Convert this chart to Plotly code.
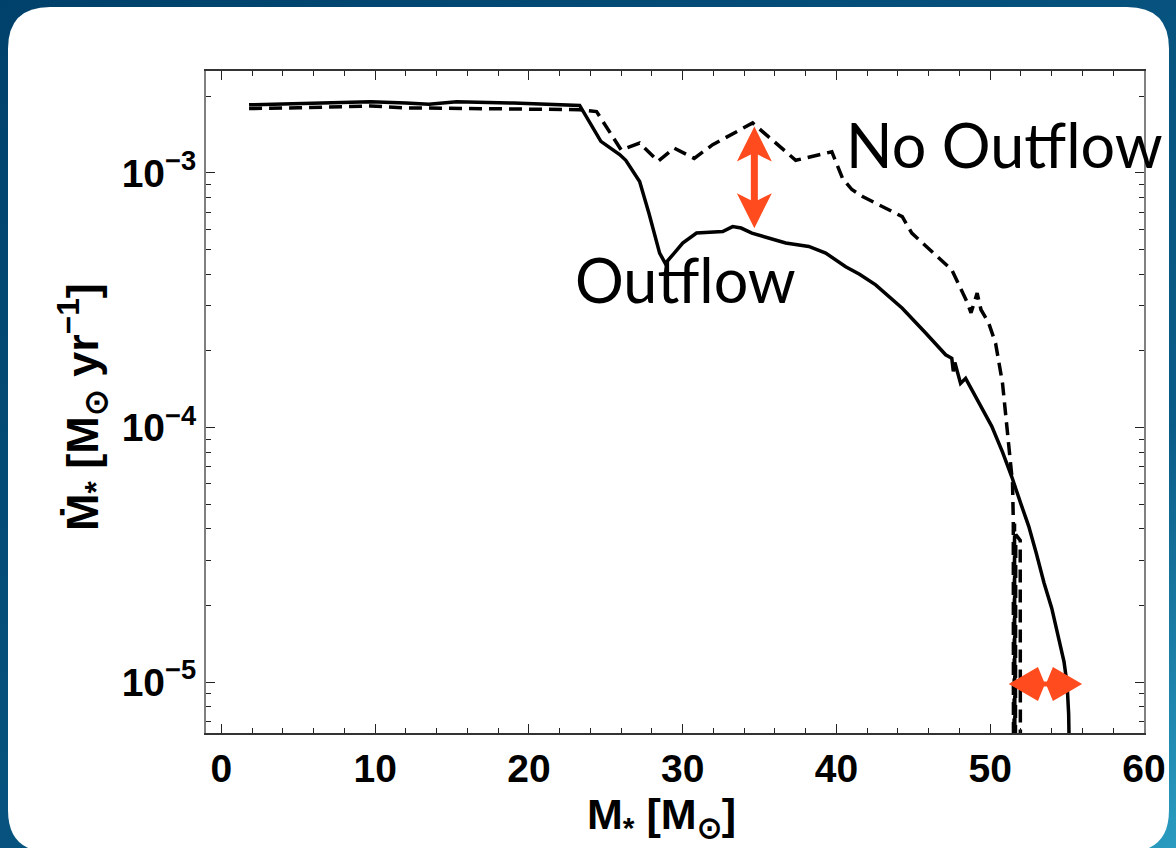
import base64
import plotly.graph_objects as go

# ---------------- data ----------------
outflow_x = [1.8, 5.0, 9.7, 12.0, 13.5, 15.3, 19.0, 23.3, 24.68, 25.9, 26.3, 27.2, 27.8, 28.5, 28.87,
             29.45, 30.0, 30.9, 32.6, 33.25, 33.8, 34.5, 36.7, 38.2, 39.3, 40.6, 41.5, 42.55, 44.28,
             45.8, 47.1, 47.5, 47.6, 47.7, 48.07, 48.4, 48.8, 49.1, 50.1, 50.8, 51.4, 52.0, 52.5,
             53.0, 53.5, 54.0, 54.4, 54.8, 55.0, 55.1, 55.15]
outflow_y = [1.85e-3, 1.87e-3, 1.90e-3, 1.88e-3, 1.86e-3, 1.90e-3, 1.88e-3, 1.84e-3, 1.33e-3, 1.18e-3,
             1.12e-3, 9.24e-4, 6.95e-4, 4.84e-4, 4.41e-4, 4.84e-4, 5.3e-4, 5.8e-4, 5.88e-4, 6.15e-4,
             6.07e-4, 5.8e-4, 5.3e-4, 5.14e-4, 4.84e-4, 4.28e-4, 4.0e-4, 3.63e-4, 2.94e-4, 2.35e-4,
             1.93e-4, 1.87e-4, 1.66e-4, 1.80e-4, 1.49e-4, 1.56e-4, 1.41e-4, 1.29e-4, 1.01e-4, 8.0e-5,
             6.4e-5, 5.0e-5, 4.1e-5, 3.2e-5, 2.45e-5, 1.95e-5, 1.55e-5, 1.2e-5, 9.8e-6, 7.5e-6, 5.0e-6]

noout_x = [1.8, 5.0, 9.7, 12.0, 16.0, 20.0, 23.3, 24.4, 25.3, 26.0, 27.2, 28.4, 29.45, 30.75, 31.95,
           34.55, 37.35, 39.7, 40.4, 41.0, 41.7, 44.28, 44.9, 47.1, 47.5, 48.5, 48.75, 49.15, 49.4,
           49.9, 50.35, 50.8, 51.1, 51.3, 51.45, 51.5, 51.52, 51.58, 51.62, 51.66, 51.95, 51.97]
noout_y = [1.79e-3, 1.80e-3, 1.83e-3, 1.80e-3, 1.79e-3, 1.78e-3, 1.77e-3, 1.74e-3, 1.43e-3, 1.23e-3,
           1.31e-3, 1.11e-3, 1.25e-3, 1.14e-3, 1.29e-3, 1.57e-3, 1.12e-3, 1.21e-3, 9.5e-4, 8.6e-4,
           8.07e-4, 6.73e-4, 5.8e-4, 4.41e-4, 4.16e-4, 3.1e-4, 2.82e-4, 3.37e-4, 2.9e-4, 2.57e-4,
           2.14e-4, 1.49e-4, 1.01e-4, 7.24e-5, 6.05e-5, 4.3e-5, 1.0e-6, 4.2e-5, 1.0e-6, 3.8e-5,
           3.6e-5, 1.0e-6]

x_ticks = [0, 10, 20, 30, 40, 50, 60]
y_ticks = [1e-5, 1e-4, 1e-3]
y_ticktext = ["10<sup>−5</sup>", "10<sup>−4</sup>", "10<sup>−3</sup>"]
y_minor = [k * 10.0 ** e for e in (-6, -5, -4, -3) for k in range(2, 10)]

labels = ["Outflow", "No Outflow"]
label_x = [30.17, 50.95]
label_logy = [-3.42, -2.89]

arrow_v = dict(x=34.66, y=9.6e-4)
arrow_h = dict(x=53.59, y=9.83e-6)

# ---------------- figure ----------------
L, T, R, B = 206, 71, 32, 115
W, H = 1176, 848
pw, ph = W - L - R, H - T - B

fig = go.Figure()
fig.add_trace(go.Scatter(x=noout_x, y=noout_y, mode="lines",
                         line=dict(color="black", width=3.5, dash="13px,7px"),
                         name="No Outflow", showlegend=False))
fig.add_trace(go.Scatter(x=outflow_x, y=outflow_y, mode="lines",
                         line=dict(color="black", width=3.5),
                         name="Outflow", showlegend=False))

# background gradient
svg = ('<svg xmlns="http://www.w3.org/2000/svg" width="1176" height="848">'
       '<defs><linearGradient id="g" x1="0" y1="0" x2="1" y2="1">'
       '<stop offset="0" stop-color="#00416b"/><stop offset="0.75" stop-color="#0a5c88"/>'
       '<stop offset="1" stop-color="#2a9cc0"/></linearGradient></defs>'
       '<rect width="1176" height="848" fill="url(#g)"/></svg>')
src = "data:image/svg+xml;base64," + base64.b64encode(svg.encode()).decode()
fig.add_layout_image(dict(source=src, xref="paper", yref="paper",
                          x=-L / pw, y=1 + T / ph, sizex=W / pw, sizey=H / ph,
                          xanchor="left", yanchor="top", sizing="stretch", layer="below"))

# white rounded panel (pixel offsets relative to plot-area top-left, y up)
pl, pt, pr, pb, rad = 8 - L, T - 7, 1169 - L, T - 852, 42
panel = (f"M{pl},{pt - rad} Q{pl},{pt} {pl + rad},{pt} L{pr - rad},{pt} Q{pr},{pt} {pr},{pt - rad} "
         f"L{pr},{pb + rad} Q{pr},{pb} {pr - rad},{pb} L{pl + rad},{pb} Q{pl},{pb} {pl},{pb + rad} Z")
fig.add_shape(type="path", path=panel, xref="paper", yref="paper",
              xsizemode="pixel", ysizemode="pixel", xanchor=0, yanchor=1,
              fillcolor="white", line=dict(width=0), layer="below")

RED = "#FF4B1E"
# vertical double arrow
La, Ha, Wa, sa = 50.8, 35, 17.5, 3.5
vpath = (f"M0,{La} L{Wa},{La - Ha} L{sa},{La - Ha + 7} L{sa},{-(La - Ha + 7)} L{Wa},{-(La - Ha)} "
         f"L0,{-La} L{-Wa},{-(La - Ha)} L{-sa},{-(La - Ha + 7)} L{-sa},{La - Ha + 7} L{-Wa},{La - Ha} Z")
fig.add_shape(type="path", path=vpath, xref="x", yref="y", xsizemode="pixel", ysizemode="pixel",
              xanchor=arrow_v["x"], yanchor=arrow_v["y"], fillcolor=RED, line=dict(width=0))
# horizontal double arrow
Lh, Wh = 36.7, 17
hpath = (f"M{Lh},0 L7.5,{Wh} L1.5,2.5 L-1.5,2.5 L-7.5,{Wh} L{-Lh},0 L-7.5,{-Wh} L-1.5,-2.5 "
         f"L1.5,-2.5 L7.5,{-Wh} Z")
fig.add_shape(type="path", path=hpath, xref="x", yref="y", xsizemode="pixel", ysizemode="pixel",
              xanchor=arrow_h["x"], yanchor=arrow_h["y"], fillcolor=RED, line=dict(width=0))

for txt, lx, ly in zip(labels, label_x, label_logy):
    fig.add_annotation(text=txt, x=lx, y=ly, xref="x", yref="y", showarrow=False,
                       xanchor="center", yanchor="middle",
                       font=dict(family="Lato", size=61, color="black"))

# axis titles
fig.add_annotation(text="Ṁ<sub>*</sub> [M<sub>⊙</sub> yr<sup>−1</sup>]", textangle=-90,
                   xref="paper", yref="paper", x=(82 - L) / pw, y=0.5 - (407 - (T + ph / 2)) / ph,
                   showarrow=False, xanchor="center", yanchor="middle",
                   font=dict(family="Liberation Sans", size=45, color="black", weight="bold"))
fig.add_annotation(text="M<sub>*</sub> [M<sub>⊙</sub>]",
                   xref="paper", yref="paper", x=(661 - L) / pw, y=-(817 - (T + ph)) / ph,
                   showarrow=False, xanchor="center", yanchor="middle",
                   font=dict(family="Liberation Sans", size=43, color="black", weight="bold"))

fig.update_xaxes(range=[-1, 60], tickmode="array", tickvals=x_ticks,
                 ticks="inside", ticklen=9, tickwidth=1.2, tickcolor="#222",
                 showline=True, linecolor="#333", linewidth=2, mirror="ticks",
                 showgrid=False, zeroline=False,
                 tickfont=dict(family="Liberation Sans", size=39, color="black", weight="bold"),
                 minor=dict(dtick=2, tick0=0, ticks="inside", ticklen=5, tickwidth=1, tickcolor="#222",
                            showgrid=False))
fig.update_yaxes(type="log", range=[-5.2, -2.6], tickmode="array", tickvals=y_ticks,
                 ticktext=y_ticktext,
                 ticks="inside", ticklen=9, tickwidth=1.2, tickcolor="#222",
                 showline=True, linecolor="#808080", linewidth=2, mirror="ticks",
                 showgrid=False, zeroline=False,
                 tickfont=dict(family="Liberation Sans", size=39, color="black", weight="bold"),
                 minor=dict(tickmode="array", tickvals=y_minor, ticks="inside", ticklen=5,
                            tickwidth=1, tickcolor="#222", showgrid=False))

fig.update_layout(width=W, height=H, margin=dict(l=L, r=R, t=T, b=B, autoexpand=False),
                  paper_bgcolor="#0a5480", plot_bgcolor="white", showlegend=False)

fig.write_html("out.html")
